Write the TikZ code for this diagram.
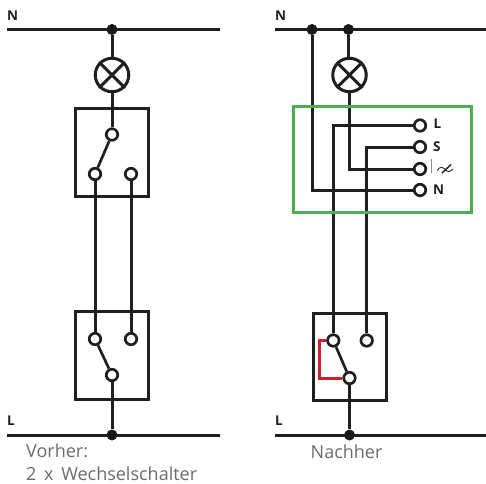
\documentclass[tikz,border=0pt]{standalone}
\usepackage{fontspec}
\setmainfont{Open Sans}
\tikzset{
  x=1pt,y=-1pt,
  wire/.style={line width=3pt,draw=black!88},
  thin wire/.style={line width=2.7pt,draw=black!88},
  term/.style={circle,draw=black!88,line width=2.7pt,fill=white,minimum size=11.5pt,inner sep=0pt},
  jn/.style={circle,fill=black!90,minimum size=11pt,inner sep=0pt},
  lamp/.style={circle,draw=black!88,line width=3pt,minimum size=33.5pt,inner sep=0pt},
  lab/.style={font=\fontsize{13.5}{14}\selectfont\bfseries,text=black!88,inner sep=0pt},
  captxt/.style={font=\fontsize{18}{20}\selectfont,text=black!58,inner sep=0pt,anchor=base west},
  swbox/.style={draw=black!88,line width=3pt},
}
\begin{document}
\begin{tikzpicture}
\useasboundingbox (0,0) rectangle (486,483);
% left
\coordinate (ln1) at (7,29.5); \coordinate (ln2) at (220,29.5);
\coordinate (ll1) at (7,435); \coordinate (ll2) at (220,435);
\draw[wire] (ln1) -- (ln2);
\draw[wire] (ll1) -- (ll2);
\draw[swbox] (75.5,108.5) rectangle (148,196);
\draw[swbox] (75.5,311.5) rectangle (148,399);
\node[jn] (ldn) at (112,29.5) {};
\node[lamp] (llamp) at (112,75) {};
\draw[wire] (llamp.45) -- (llamp.225) (llamp.135) -- (llamp.315);
\node[term] (ta) at (112,134.5) {};
\node[term] (tb) at (95,174) {};
\node[term] (tc) at (131,174) {};
\node[term] (td) at (95,339) {};
\node[term] (te) at (131,339) {};
\node[term] (tf) at (112,375) {};
\node[jn] (ldl) at (112,435) {};
\draw[wire] (ldn) -- (llamp);
\draw[wire] (llamp) -- (ta);
\draw[thin wire] (ta) -- (tb);
\draw[wire] (tb) -- (td);
\draw[wire] (tc) -- (te);
\draw[thin wire] (td) -- (tf);
\draw[wire] (tf) -- (ldl);
\node[lab,anchor=base west] (nl) at (7,20) {N};
\node[lab,anchor=base west] (lL) at (7,425) {L};
\node[captxt] (c1) at (26,457) {Vorher:};
\node[captxt] (c2) at (26,480) {2\hspace{3pt} x\hspace{3pt} Wechselschalter};
% right
\coordinate (rn1) at (275,29.5); \coordinate (rn2) at (486,29.5);
\coordinate (rl1) at (275,435); \coordinate (rl2) at (486,435);
\draw[wire] (rn1) -- (rn2);
\draw[wire] (rl1) -- (rl2);
\draw[swbox] (313,313) rectangle (386,400.5);
\node[jn] (rdn1) at (312,29.5) {};
\node[jn] (rdn2) at (348.5,29.5) {};
\node[lamp] (rlamp) at (349.5,75) {};
\draw[wire] (rlamp.45) -- (rlamp.225) (rlamp.135) -- (rlamp.315);
\node[term] (tL) at (420,125.5) {};
\node[term] (tS) at (420,147) {};
\node[term] (tD) at (420,169) {};
\node[term] (tN) at (420,190) {};
\node[term] (tg) at (333.3,340.5) {};
\node[term] (th) at (366.7,340.5) {};
\node[term] (ti) at (349.5,378) {};
\node[jn] (rdl) at (349.5,435) {};
\draw[wire] (rdn2) -- (348.5,58);
\draw[wire] (rdn1) |- (tN);
\draw[wire] (rlamp) -- (349.5,169) -- (tD);
\draw[wire] (tg) |- (tL);
\draw[wire] (th) |- (tS);
\draw[draw={rgb,255:red,208;green,32;blue,44},line width=3pt] (tg) -- (319,340.5) -- (319,378) -- (ti);
\draw[thin wire] (tg) -- (ti);
\draw[wire] (ti) -- (rdl);
\draw[draw={rgb,255:red,72;green,176;blue,80},line width=3pt] (293.5,106.5) rectangle (471,212);
\node[lab,anchor=base west] (nr) at (275,20) {N};
\node[lab,anchor=base west] (lr) at (275,425) {L};
\node[lab,anchor=base west] (pL) at (433.5,128.5) {L};
\node[lab,anchor=base west] (pS) at (433,151) {S};
\node[lab,anchor=base west] (pN) at (433,194.5) {N};
\draw[draw=black!45,line width=1.2pt] (431.7,159) -- (431.7,173);
\draw[draw=black!85,line width=0.9pt] (437,170.5) .. controls (440,166) and (443,167) .. (445,169.5) .. controls (447,172) and (450,172.5) .. (453,169);
\draw[draw=black!85,line width=1.5pt] (442,173) -- (451,164.5);
\node[captxt] (c3) at (310.5,458) {Nachher};
\end{tikzpicture}
\end{document}
